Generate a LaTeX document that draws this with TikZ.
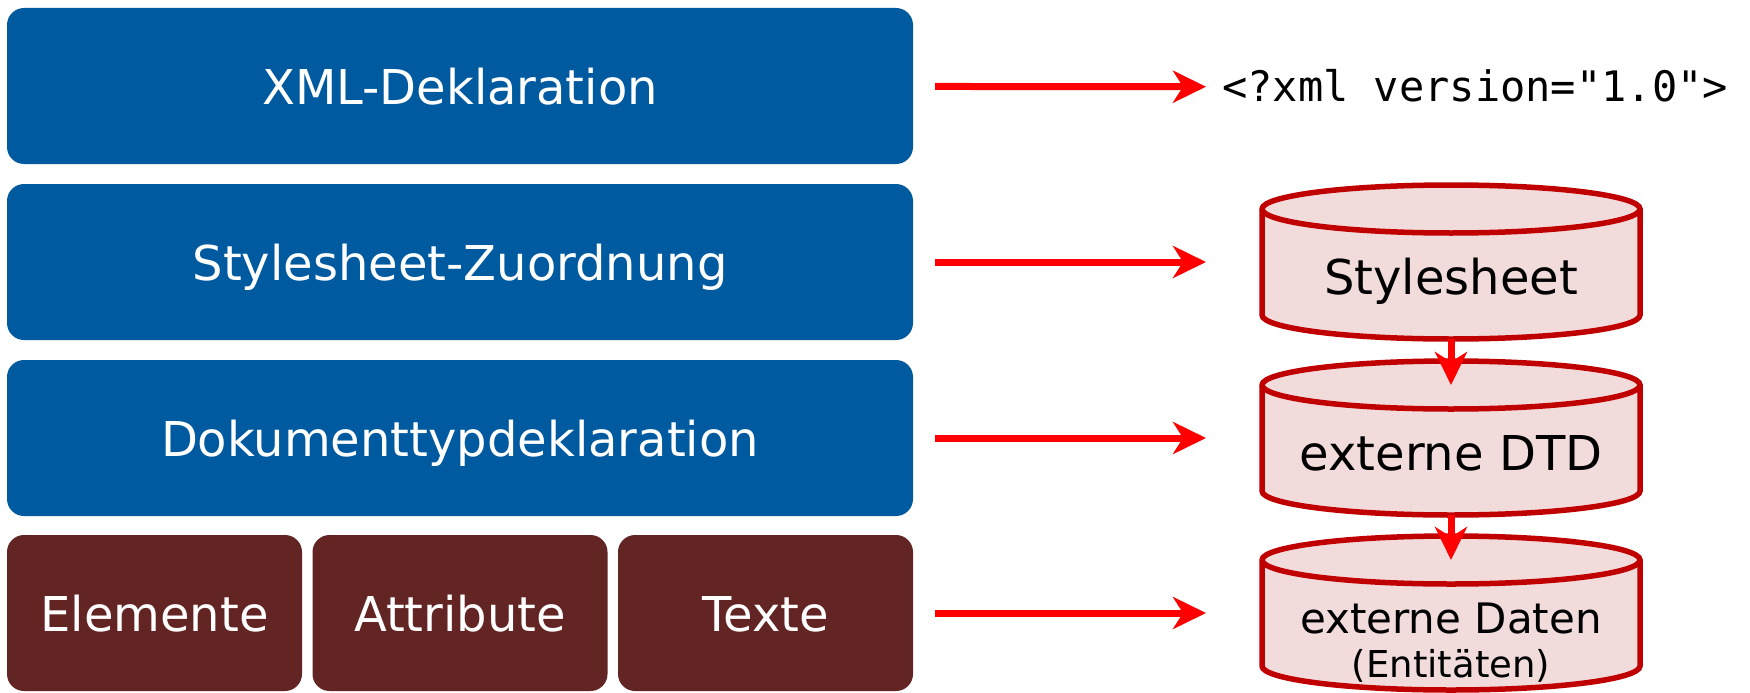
\documentclass[tikz,border=0pt]{standalone}
\usepackage{fontspec}
\setmainfont{DejaVu Sans}
\setmonofont{DejaVu Sans Mono}
\usetikzlibrary{arrows.meta,backgrounds}

\definecolor{xmlblue}{RGB}{0,90,160}
\definecolor{xmlbrown}{RGB}{99,37,35}
\definecolor{dbred}{RGB}{192,0,0}
\definecolor{dbfill}{RGB}{242,220,219}

\tikzset{
  layer/.style={rectangle, rounded corners=17pt, fill=xmlblue, text=white,
    minimum width=906pt, minimum height=156pt, inner sep=0pt,
    text height=38pt, text depth=1pt, font=\fontsize{48}{56}\selectfont},
  part/.style={layer, fill=xmlbrown, minimum width=295pt},
  store/.style={rectangle, minimum width=378pt, minimum height=154pt, inner sep=0pt, outer sep=0pt},
  drum/.style={draw=dbred, line width=5.5pt, fill=dbfill},
  big/.style={inner sep=0pt, text height=36pt, text depth=4pt, font=\fontsize{48}{56}\selectfont},
  flow/.style={-{Stealth[length=33pt, width=32pt, inset=10pt]}, red, line width=7pt},
}

\begin{document}
\begin{tikzpicture}[x=1pt, y=-1pt]
  \useasboundingbox (0,0) rectangle (1750,693);

  % Document layers
  \foreach \y/\t [count=\i] in {86/XML-Deklaration, 262/Stylesheet-Zuordnung, 438/Dokumenttypdeklaration}
  \node[layer] (layer\i) at (460,\y) {\t};

  % Document body
  \node[part] (elem) at (154.5,613) {Elemente};
  \node[part] (attr) at (460,613) {Attribute};
  \node[part] (text) at (765.5,613) {Texte};

  % Declaration and external files
  \node[anchor=west, inner sep=0pt, text height=32pt, text depth=3.4pt,
    font=\ttfamily\fontsize{42}{50}\selectfont] (decl) at (1222,87) {<?xml version="1.0">};
  \node[store, label={[big, yshift=-16pt]center:Stylesheet}] (sheet) at (1451,262) {};
  \node[store, label={[big, yshift=-16pt]center:externe DTD}] (dtd) at (1451,438) {};
  \node[store, label={[inner sep=0pt, text height=32pt, text depth=3.4pt, font=\fontsize{42}{50}\selectfont, yshift=-5.7pt]center:externe Daten},
    label={[inner sep=0pt, text height=28pt, text depth=3pt, font=\fontsize{37}{44}\selectfont, yshift=-52.4pt]center:(Entitäten)}] (data) at (1451,613) {};

  % Cylinders behind the file nodes
  \begin{pgfonlayer}{background}
    \foreach \n in {sheet,dtd,data} {
      \draw[drum] ([yshift=-24pt]\n.north west) -- ([yshift=24pt]\n.south west)
        arc[start angle=180, end angle=360, x radius=189pt, y radius=24pt]
        -- ([yshift=-24pt]\n.north east)
        arc[start angle=0, end angle=180, x radius=189pt, y radius=24pt] -- cycle;
      \draw[drum, fill=none] ([yshift=-24pt]\n.north west)
        arc[start angle=180, end angle=360, x radius=189pt, y radius=24pt];
    }
  \end{pgfonlayer}

  % Connections
  \draw[flow, shorten <=22pt, shorten >=16pt] (layer1) -- (decl);
  \draw[flow, shorten <=22pt, shorten >=56pt] (layer2) -- (sheet);
  \draw[flow, shorten <=22pt, shorten >=56pt] (layer3) -- (dtd);
  \draw[flow, shorten <=22pt, shorten >=56pt] (text) -- (data);
  \draw[flow, shorten >=53pt] (sheet.south) -- (dtd.center);
  \draw[flow, shorten >=53pt] (dtd.south) -- (data.center);

\end{tikzpicture}
\end{document}
